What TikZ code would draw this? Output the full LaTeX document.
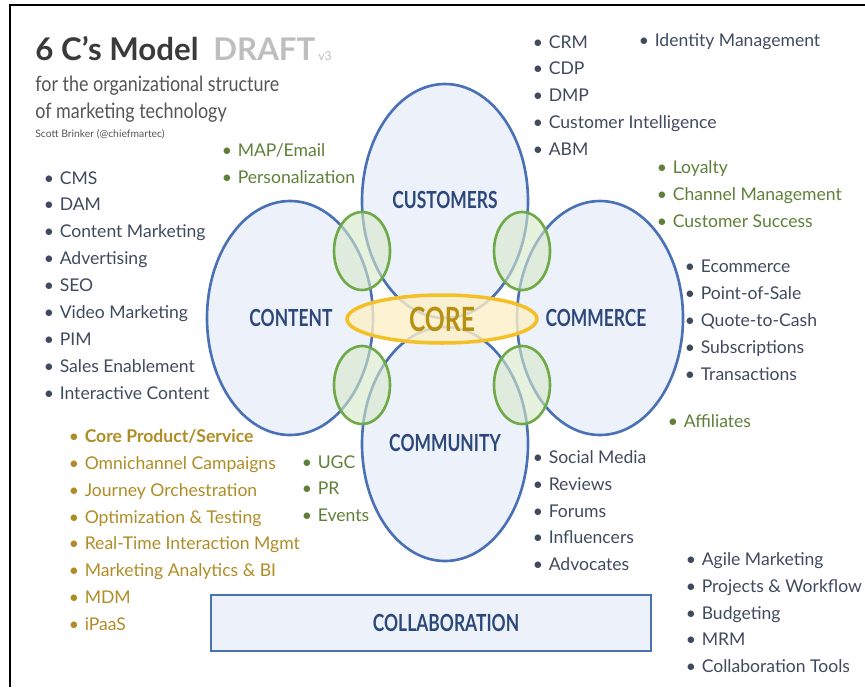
\documentclass[tikz,border=0pt]{standalone}
\usepackage{fontspec}
\setmainfont{Lato}
\newfontfamily\capfnt{Lato}[FakeStretch=0.74]
\newfontfamily\subfnt{Lato}[FakeStretch=0.85]
\usetikzlibrary{shapes.geometric,positioning}

\definecolor{lobeblue}{RGB}{74,112,182}
\definecolor{lobefillc}{RGB}{237,241,250}
\definecolor{linkgreen}{RGB}{112,170,72}
\definecolor{linkfill}{RGB}{214,232,200}
\definecolor{coregold}{RGB}{244,192,40}
\definecolor{corefill}{RGB}{253,240,200}
\definecolor{coretext}{RGB}{184,144,16}
\definecolor{labelblue}{RGB}{44,72,122}
\definecolor{itemdark}{RGB}{64,74,94}
\definecolor{itemgreen}{RGB}{94,128,56}
\definecolor{itemgold}{RGB}{176,140,36}
\definecolor{titlegrey}{RGB}{58,58,58}
\definecolor{draftgrey}{RGB}{190,190,190}
\definecolor{subgrey}{RGB}{85,85,85}

\newcommand{\bul}{\hspace{-0.25em}\textbullet\hspace{0.32em}}
\newcommand{\listfnt}{\fontsize{10}{15.3}\selectfont}

\tikzset{
  lobefill/.style={fill=lobefillc},
  lobeline/.style={draw=lobeblue, line width=1.5pt},
  lobelabel/.style={font=\capfnt\fontsize{13.4}{16}\selectfont\bfseries, text=labelblue, inner sep=0pt},
  joint/.style={ellipse, draw=linkgreen, line width=1.5pt, fill=linkfill, fill opacity=0.6,
    minimum width=1.12cm, minimum height=1.56cm, inner sep=0pt},
  coreshape/.style={ellipse, draw=coregold, line width=2pt, fill=corefill, fill opacity=0.8,
    text opacity=1, text=coretext, font=\capfnt\fontsize{19}{21}\selectfont\bfseries,
    minimum width=3.8cm, minimum height=0.96cm, inner sep=0pt},
  itemlist/.style={anchor=north west, inner sep=0pt, align=left, font=\listfnt},
  darklist/.style={itemlist, text=itemdark},
  greenlist/.style={itemlist, text=itemgreen},
  goldlist/.style={itemlist, text=itemgold},
}

\begin{document}
\begin{tikzpicture}[x=0.02cm, y=-0.02cm]
  \useasboundingbox (0,0) rectangle (865,687);
  \draw[line width=1.5pt] (10,687) -- (10,5) -- (865,5);

  % title block
  \node[anchor=base west, inner sep=0pt, font=\fontsize{17.8}{21}\selectfont\bfseries, text=titlegrey] (title) at (35,60) {6 C’s Model};
  \node[anchor=base west, inner sep=0pt, font=\fontsize{17.8}{21}\selectfont\bfseries, text=draftgrey] (draft) at (213,60) {DRAFT};
  \node[anchor=base west, inner sep=0pt, font=\fontsize{7}{8}\selectfont, text=draftgrey] (ver) at (318,60) {v3};
  \node[anchor=base west, inner sep=0pt, font=\subfnt\fontsize{12}{14}\selectfont, text=subgrey] (sub1) at (35,91) {for the organizational structure};
  \node[anchor=base west, inner sep=0pt, font=\subfnt\fontsize{12}{14}\selectfont, text=subgrey] (sub2) at (35,118) {of marketing technology};
  \node[anchor=base west, inner sep=0pt, font=\fontsize{5.9}{7}\selectfont, text=subgrey] (by) at (35,137) {Scott Brinker (@chiefmartec)};

  % the four lobes
  \coordinate (cust) at (445,201);
  \coordinate (comm) at (445,444);
  \coordinate (cont) at (290,318);
  \coordinate (come) at (600,318);
  \foreach \c in {cust,comm,cont,come}
    \fill[lobefill] (\c) ellipse [x radius=83, y radius=117];
  \foreach \c in {cust,comm,cont,come}
    \draw[lobeline] (\c) ellipse [x radius=83, y radius=117];

  \node[joint] (jul) at (362,251) {};
  \node[joint] (jur) at (522,251) {};
  \node[joint] (jll) at (362,385) {};
  \node[joint] (jlr) at (522,385) {};

  \node[coreshape] (core) at (442,319) {CORE};

  \node[lobelabel] (custlbl) at (445,200) {CUSTOMERS};
  \node[lobelabel] (commlbl) at (445,443) {COMMUNITY};
  \node[lobelabel] (contlbl) at (291,318) {CONTENT};
  \node[lobelabel] (comelbl) at (596,318) {COMMERCE};

  % collaboration bar
  \node[draw=lobeblue, line width=1.5pt, fill=lobefillc, minimum width=8.8cm, minimum height=1.12cm] (collabbox) at (431,623) {};
  \node[lobelabel] (collablbl) at (446,623) {COLLABORATION};

  % lists
  \node[darklist] (contlist) at (48,171) {\bul CMS\\ \bul DAM\\ \bul Content Marketing\\ \bul Advertising\\ \bul SEO\\ \bul Video Marketing\\ \bul PIM\\ \bul Sales Enablement\\ \bul Interactive Content};
  \node[greenlist] (maplist) at (226,143) {\bul MAP/Email\\ \bul Personalization};
  \node[darklist] (custlist) at (537,35) {\bul CRM\\ \bul CDP\\ \bul DMP\\ \bul Customer Intelligence\\ \bul ABM};
  \node[darklist] (idmlist) at (643,33) {\bul Identity Management};
  \node[greenlist] (loyallist) at (661,160) {\bul Loyalty\\ \bul Channel Management\\ \bul Customer Success};
  \node[darklist] (comelist) at (689,260) {\bul Ecommerce\\ \bul Point-of-Sale\\ \bul Quote-to-Cash\\ \bul Subscriptions\\ \bul Transactions};
  \node[greenlist] (afflist) at (672,414) {\bul Affiliates};
  \node[goldlist] (corelist) at (73,429) {\bul \textbf{Core Product/Service}\\ \bul Omnichannel Campaigns\\ \bul Journey Orchestration\\ \bul Optimization \& Testing\\ \bul Real-Time Interaction Mgmt\\ \bul Marketing Analytics \& BI\\ \bul MDM\\ \bul iPaaS};
  \node[greenlist] (ugclist) at (306,455) {\bul UGC\\ \bul PR\\ \bul Events};
  \node[darklist] (commlist) at (537,450) {\bul Social Media\\ \bul Reviews\\ \bul Forums\\ \bul Influencers\\ \bul Advocates};
  \node[darklist] (agilelist) at (690,552) {\bul Agile Marketing\\ \bul Projects \& Workflow\\ \bul Budgeting\\ \bul MRM\\ \bul Collaboration Tools};
\end{tikzpicture}
\end{document}
